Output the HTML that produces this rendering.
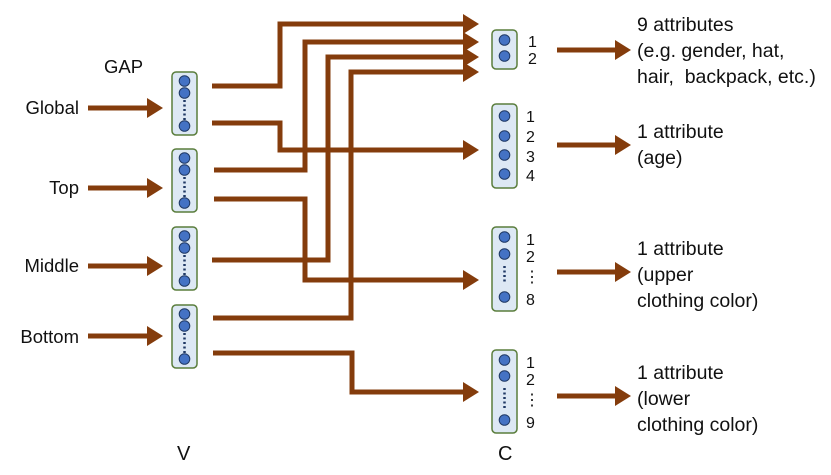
<!DOCTYPE html>
<html><head><meta charset="utf-8"><style>
html,body{margin:0;padding:0;background:#fff;}
svg{display:block;}
text{font-family:"Liberation Sans",sans-serif;fill:#111;}
</style></head><body>
<svg width="831" height="475" viewBox="0 0 831 475" xmlns="http://www.w3.org/2000/svg">
<defs>
<marker id="ah" markerWidth="4" markerHeight="4" refX="1" refY="2" orient="auto" markerUnits="strokeWidth">
<path d="M0,0 L3.2,2 L0,4 Z" fill="#843C0C"/>
</marker>
</defs>
<g fill="none" stroke="#843C0C" stroke-width="5" stroke-linejoin="miter">
<path d="M88,108 H152" marker-end="url(#ah)"/>
<path d="M88,188 H152" marker-end="url(#ah)"/>
<path d="M88,266 H152" marker-end="url(#ah)"/>
<path d="M88,336 H152" marker-end="url(#ah)"/>
<path d="M212,86 H280 V24 H468" marker-end="url(#ah)"/>
<path d="M214,170 H305 V42 H468" marker-end="url(#ah)"/>
<path d="M212,260 H328 V57 H468" marker-end="url(#ah)"/>
<path d="M213,318 H351 V72 H468" marker-end="url(#ah)"/>
<path d="M212,123 H280 V150 H468" marker-end="url(#ah)"/>
<path d="M214,199 H305 V280 H468" marker-end="url(#ah)"/>
<path d="M213,353 H352 V392 H468" marker-end="url(#ah)"/>
<path d="M557,50 H620" marker-end="url(#ah)"/>
<path d="M557,145 H620" marker-end="url(#ah)"/>
<path d="M557,272 H620" marker-end="url(#ah)"/>
<path d="M557,396 H620" marker-end="url(#ah)"/>
</g>
<g stroke="#5a7d3c" stroke-width="1.5" fill="#dde8f4">
<rect x="172" y="72" width="25" height="63" rx="4"/>
<rect x="172" y="149" width="25" height="63" rx="4"/>
<rect x="172" y="227" width="25" height="63" rx="4"/>
<rect x="172" y="305" width="25" height="63" rx="4"/>
<rect x="492" y="30" width="25" height="39" rx="4"/>
<rect x="492" y="104" width="25" height="84" rx="4"/>
<rect x="492" y="227" width="25" height="84" rx="4"/>
<rect x="492" y="350" width="25" height="83" rx="4"/>
</g>
<g fill="#4472c4" stroke="#1f3864" stroke-width="1">
<circle cx="184.5" cy="81" r="5.3"/><circle cx="184.5" cy="93" r="5.3"/><circle cx="184.5" cy="126" r="5.3"/>
<circle cx="184.5" cy="158" r="5.3"/><circle cx="184.5" cy="170" r="5.3"/><circle cx="184.5" cy="203" r="5.3"/>
<circle cx="184.5" cy="236" r="5.3"/><circle cx="184.5" cy="248" r="5.3"/><circle cx="184.5" cy="281" r="5.3"/>
<circle cx="184.5" cy="314" r="5.3"/><circle cx="184.5" cy="326" r="5.3"/><circle cx="184.5" cy="359" r="5.3"/>
<circle cx="504.5" cy="40" r="5.3"/><circle cx="504.5" cy="56" r="5.3"/>
<circle cx="504.5" cy="116" r="5.3"/><circle cx="504.5" cy="136" r="5.3"/><circle cx="504.5" cy="155" r="5.3"/><circle cx="504.5" cy="174" r="5.3"/>
<circle cx="504.5" cy="237" r="5.3"/><circle cx="504.5" cy="254" r="5.3"/><circle cx="504.5" cy="297" r="5.3"/>
<circle cx="504.5" cy="360" r="5.3"/><circle cx="504.5" cy="376" r="5.3"/><circle cx="504.5" cy="420" r="5.3"/>
</g>
<g stroke="#1f3864" stroke-width="2.5" stroke-dasharray="2,2.5">
<path d="M184.5,100 V120"/><path d="M184.5,177 V197"/><path d="M184.5,255 V275"/><path d="M184.5,333 V353"/>
<path d="M504.5,266 V284"/><path d="M504.5,388 V408"/>
</g>
<g font-size="18.5">
<text x="79" y="114" text-anchor="end">Global</text>
<text x="79" y="194" text-anchor="end">Top</text>
<text x="79" y="272" text-anchor="end">Middle</text>
<text x="79" y="343" text-anchor="end">Bottom</text>
<text x="104" y="73">GAP</text>
<text x="177" y="460" font-size="20">V</text>
<text x="498" y="460" font-size="20">C</text>
</g>
<g font-size="16">
<text x="528" y="47">1</text><text x="528" y="64">2</text>
<text x="526" y="122">1</text><text x="526" y="142">2</text><text x="526" y="162">3</text><text x="526" y="181">4</text>
<text x="526" y="245">1</text><text x="526" y="262">2</text><text x="524" y="282">⋮</text><text x="526" y="305">8</text>
<text x="526" y="368">1</text><text x="526" y="385">2</text><text x="524" y="405">⋮</text><text x="526" y="428">9</text>
</g>
<g font-size="19.5">
<text x="637" y="31">9 attributes</text>
<text x="637" y="57">(e.g. gender, hat,</text>
<text x="637" y="83">hair, &#160;backpack, etc.)</text>
<text x="637" y="138">1 attribute</text>
<text x="637" y="164">(age)</text>
<text x="637" y="255">1 attribute</text>
<text x="637" y="281">(upper</text>
<text x="637" y="307">clothing color)</text>
<text x="637" y="379">1 attribute</text>
<text x="637" y="405">(lower</text>
<text x="637" y="431">clothing color)</text>
</g>
</svg>
</body></html>
